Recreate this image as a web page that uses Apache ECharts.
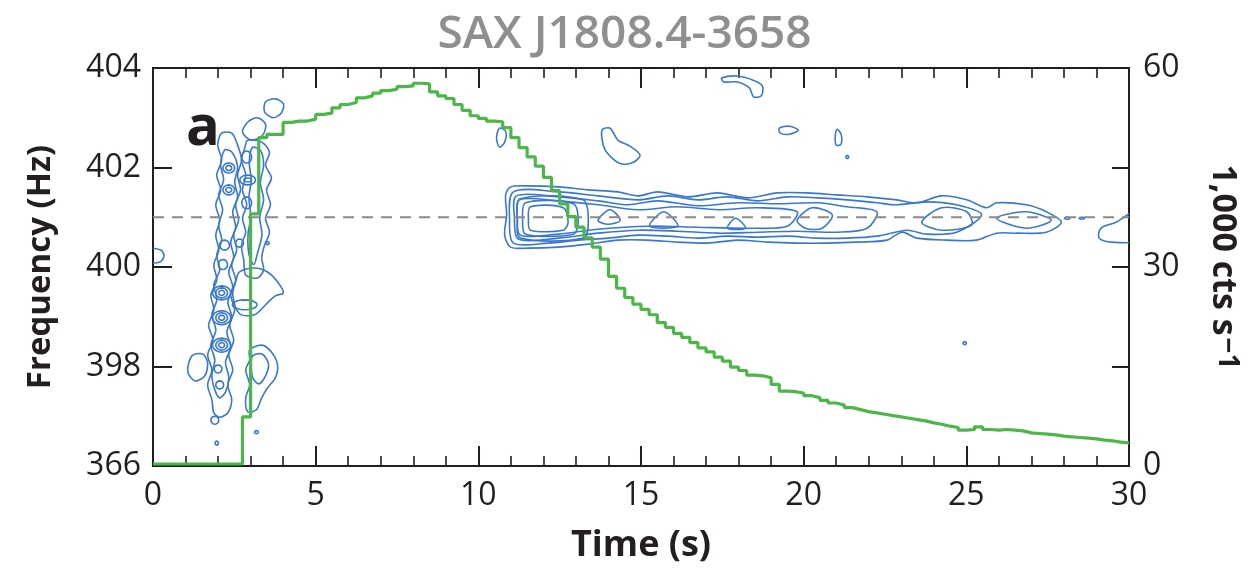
<!DOCTYPE html>
<html>
<head>
<meta charset="utf-8">
<script src="https://cdn.jsdelivr.net/npm/echarts@6/dist/echarts.min.js"></script>
<style>
  html, body { margin: 0; padding: 0; background: #fff; }
  #chart { width: 1249px; height: 574px; }
</style>
</head>
<body>
<div id="chart"></div>
<script>
// frequency axis: the bottom tick is a broken-axis label (366)
var freqTicks = [396, 398, 400, 402, 404];
var freqTickLabels = ['366', '398', '400', '402', '404'];
var refFreq = 401;

// count rate, 1,000 cts/s, in 0.25 s bins starting at t = 0
var binWidth = 0.25;
var rates = [
  0.3, 0.3, 0.3, 0.3, 0.3, 0.3, 0.3, 0.3, 0.3, 0.3, 0.3, 7.4,
  38.0, 49.5, 50.0, 50.0, 51.8, 52.0, 52.0, 52.3, 53.0, 53.2, 54.0, 54.5,
  54.8, 55.5, 55.8, 56.2, 56.6, 56.8, 57.2, 57.3, 57.7, 57.6, 56.4, 55.8,
  55.4, 54.5, 53.6, 52.8, 52.4, 52.0, 51.9, 51.0, 49.5, 48.0, 46.6, 45.2,
  43.5, 41.5, 39.5, 37.6, 36.0, 34.4, 33.0, 31.2, 28.6, 26.8, 25.4, 24.4,
  23.6, 22.8, 21.6, 20.9, 20.0, 19.4, 18.6, 17.8, 17.2, 16.4, 15.8, 14.9,
  14.4, 13.7, 13.6, 13.3, 12.3, 11.3, 11.2, 11.0, 10.6, 10.3, 9.9, 9.5,
  9.2, 8.8, 8.5, 8.2, 8.0, 7.8, 7.6, 7.4, 7.2, 7.0, 6.8, 6.5,
  6.3, 6.0, 5.8, 5.4, 5.5, 5.9, 5.5, 5.4, 5.5, 5.4, 5.3, 5.0,
  4.9, 4.8, 4.7, 4.5, 4.4, 4.3, 4.2, 4.1, 3.9, 3.8, 3.6, 3.5
];

// power contours, [time s, frequency Hz]
var burstContours = [
  // left column, outer
  [[2.11,402.69],[1.99,402.45],[2.11,402.15],[1.96,401.85],[2.08,401.55],[1.93,401.25],[2.05,400.94],[1.93,400.64],
   [2.02,400.34],[1.87,400.04],[1.96,399.74],[1.78,399.44],[1.87,399.14],[1.71,398.83],[1.84,398.53],[1.68,398.23],
   [1.81,397.93],[1.68,397.63],[1.81,397.33],[1.87,397.07],[2.05,396.98],[2.30,397.07],[2.42,397.33],[2.30,397.63],
   [2.45,397.93],[2.33,398.23],[2.48,398.53],[2.36,398.83],[2.51,399.14],[2.39,399.44],[2.54,399.74],[2.42,400.04],
   [2.57,400.34],[2.48,400.64],[2.63,400.94],[2.54,401.25],[2.69,401.55],[2.60,401.85],[2.72,402.15],[2.60,402.45],[2.42,402.69]],
  // left column, inner
  [[2.20,402.35],[2.08,402.05],[2.17,401.75],[2.02,401.45],[2.14,401.15],[2.02,400.84],[2.11,400.54],[1.96,400.24],
   [2.05,399.94],[1.87,399.64],[1.96,399.34],[1.81,399.04],[1.93,398.73],[1.78,398.43],[1.90,398.13],[1.81,397.83],
   [1.90,397.53],[2.05,397.37],[2.23,397.49],[2.33,397.77],[2.23,398.09],[2.39,398.39],[2.27,398.69],[2.42,398.99],
   [2.30,399.30],[2.45,399.60],[2.33,399.90],[2.48,400.20],[2.39,400.50],[2.54,400.80],[2.45,401.11],[2.60,401.41],
   [2.51,401.71],[2.60,402.01],[2.42,402.31]],
  // right column
  [[2.91,402.55],[3.34,402.51],[3.58,402.31],[3.46,402.05],[3.64,401.79],[3.49,401.55],[3.61,401.25],[3.46,400.98],
   [3.58,400.70],[3.43,400.44],[3.34,400.18],[3.40,399.94],[3.21,399.78],[2.85,399.84],[2.79,400.14],[2.72,400.44],
   [2.85,400.70],[2.75,400.98],[2.88,401.25],[2.75,401.55],[2.85,401.85],[2.72,402.15],[2.82,402.39]],
  [[3.05,402.40],[3.30,402.35],[3.40,402.05],[3.30,401.70],[3.40,401.35],[3.28,401.00],[3.35,400.65],[3.22,400.30],
   [3.10,400.05],[2.95,400.25],[2.92,400.65],[3.00,401.00],[2.95,401.40],[3.02,401.75],[2.96,402.10]],
  [[3.46,403.32],[3.76,403.38],[4.01,403.28],[3.95,403.10],[3.70,403.00],[3.43,403.12]],
  [[2.91,402.91],[3.21,403.00],[3.46,402.87],[3.37,402.65],[3.03,402.55],[2.75,402.71]],
  [[2.66,399.90],[3.12,399.98],[3.52,399.90],[3.83,399.70],[4.01,399.48],[3.76,399.42],[3.52,399.28],[3.12,399.04],
   [2.66,399.06],[2.45,399.44],[2.54,399.70]],
  [[2.97,398.33],[3.34,398.43],[3.64,398.29],[3.83,398.03],[3.76,397.77],[3.52,397.57],[3.34,397.37],[3.18,397.13],
   [2.91,397.09],[2.85,397.37],[2.97,397.63],[2.85,397.93],[2.97,398.13]],
  [[3.05,398.20],[3.35,398.25],[3.55,398.05],[3.45,397.80],[3.25,397.65],[3.05,397.80]],
  [[1.19,398.21],[1.53,398.25],[1.68,398.07],[1.59,397.81],[1.29,397.71],[1.07,397.89]],
  [[-0.1,400.36],[0.24,400.34],[0.34,400.22],[0.21,400.10],[-0.1,400.10]],
  // stray contours in the upper half
  [[10.65,402.79],[10.84,402.73],[10.81,402.51],[10.65,402.41],[10.56,402.59]],
  [[13.80,402.75],[14.05,402.79],[14.29,402.55],[14.66,402.43],[14.97,402.25],[14.78,402.11],[14.42,402.07],[14.11,402.19],[13.87,402.39]],
  [[17.48,403.80],[17.97,403.84],[18.43,403.76],[18.73,403.64],[18.70,403.44],[18.46,403.42],[18.33,403.60],[17.97,403.72],[17.54,403.72]],
  [[19.25,402.79],[19.56,402.83],[19.83,402.75],[19.56,402.67],[19.28,402.69]],
  [[21.03,402.77],[21.15,402.67],[21.15,402.47],[21.00,402.45],[20.97,402.63]],
  // 401 Hz band
  [[10.84,401.45],[10.99,401.61],[11.54,401.63],[12.46,401.61],[13.38,401.55],[14.29,401.51],[14.91,401.43],[15.52,401.51],
   [16.44,401.41],[17.36,401.49],[18.27,401.39],[19.19,401.49],[20.11,401.49],[21.03,401.45],[21.95,401.41],[22.86,401.35],
   [23.48,401.29],[24.24,401.43],[25.01,401.35],[25.62,401.19],[25.93,401.29],[26.84,401.25],[27.46,401.11],[27.92,400.90],
   [27.46,400.70],[26.54,400.68],[25.93,400.68],[25.31,400.54],[24.40,400.54],[23.48,400.58],[23.02,400.70],[22.56,400.54],
   [21.64,400.50],[20.72,400.48],[19.80,400.48],[18.89,400.50],[17.97,400.54],[17.05,400.48],[16.13,400.50],[15.21,400.54],
   [14.29,400.54],[13.38,400.46],[12.46,400.40],[11.54,400.38],[10.99,400.40],[10.81,400.64],[10.87,401.05]],
  [[11.08,401.51],[12.46,401.51],[13.68,401.43],[14.91,401.35],[15.82,401.43],[16.74,401.35],[17.66,401.41],[18.58,401.33],
   [19.50,401.41],[20.42,401.39],[21.33,401.35],[22.25,401.29],[22.86,401.25],[23.78,401.31],[24.70,401.25],[25.47,401.05],
   [24.70,400.70],[23.78,400.66],[23.17,400.74],[22.25,400.62],[21.33,400.58],[20.42,400.58],[19.50,400.62],[18.58,400.60],
   [17.66,400.62],[16.74,400.58],[15.82,400.62],[14.91,400.64],[13.99,400.58],[13.07,400.54],[12.15,400.48],[11.08,400.48],[10.96,400.94]],
  [[11.17,401.43],[12.46,401.41],[13.68,401.33],[14.60,401.25],[15.52,401.33],[16.74,401.23],[17.97,401.29],[19.19,401.27],
   [20.42,401.29],[21.33,401.21],[22.25,401.11],[21.95,400.78],[21.03,400.70],[19.80,400.72],[18.58,400.70],[17.36,400.68],
   [16.13,400.72],[14.91,400.74],[13.68,400.68],[12.46,400.58],[11.23,400.56],[11.11,400.98]],
  [[11.26,401.35],[12.46,401.33],[13.68,401.25],[14.91,401.15],[16.13,401.21],[17.36,401.15],[18.58,401.19],[19.80,401.11],
   [19.50,400.82],[18.27,400.78],[16.74,400.80],[15.21,400.82],[13.68,400.76],[12.46,400.66],[11.29,400.64],[11.20,400.98]],
  [[11.29,401.37],[13.22,401.35],[13.38,400.90],[13.22,400.58],[11.29,400.58],[11.20,400.94]],
  [[11.45,401.29],[12.92,401.27],[13.07,400.90],[12.92,400.66],[11.45,400.66],[11.36,400.94]],
  [[11.60,401.21],[12.61,401.19],[12.76,400.90],[12.61,400.74],[11.60,400.74],[11.54,400.94]],
  [[15.27,400.82],[15.70,401.11],[16.13,400.82]],
  [[13.68,400.94],[14.05,401.15],[14.36,400.94],[13.99,400.86]],
  [[17.66,400.78],[17.91,400.98],[18.21,400.78]],
  [[19.80,400.94],[20.26,401.19],[20.88,401.05],[20.57,400.78],[20.05,400.78]],
  [[23.63,400.90],[24.24,401.19],[25.01,401.11],[25.16,400.84],[24.24,400.74]],
  [[25.93,400.98],[26.84,401.11],[27.61,400.94],[26.84,400.78]],
  [[30.2,401.11],[29.60,400.90],[29.14,400.78],[29.08,400.58],[29.45,400.50],[30.2,400.54]]
];

// small closed contours: [time, freq, half-width s, half-height Hz]
var smallLoops = [
  [2.33,401.99,0.18,0.10],[2.33,401.99,0.09,0.05],
  [2.33,401.55,0.18,0.10],[2.33,401.55,0.09,0.05],
  [2.88,402.21,0.15,0.12],
  [2.91,401.75,0.24,0.10],[2.91,401.75,0.12,0.04],
  [2.88,401.29,0.15,0.12],
  [2.20,400.44,0.15,0.10],
  [2.15,400.05,0.14,0.10],
  [2.11,399.48,0.28,0.14],[2.11,399.48,0.18,0.10],[2.11,399.48,0.09,0.05],
  [2.11,398.98,0.28,0.14],[2.11,398.98,0.18,0.10],[2.11,398.98,0.09,0.05],
  [2.11,398.43,0.28,0.14],[2.11,398.43,0.18,0.10],[2.11,398.43,0.09,0.05],
  [2.05,397.63,0.12,0.08],
  [2.00,397.95,0.12,0.08],
  [2.82,399.24,0.38,0.10],
  [2.66,400.48,0.12,0.08],
  [3.52,400.48,0.05,0.03],
  [1.90,396.92,0.12,0.08],
  [1.96,396.46,0.05,0.04],
  [3.18,396.68,0.06,0.03],
  [21.34,402.21,0.04,0.03],
  [24.95,398.47,0.05,0.03],
  [28.10,400.98,0.08,0.02],[28.55,400.98,0.08,0.02]
];

var blue = '#3a78cf';
var green = '#4cb748';
var ink = '#231f20';
var font = 'Open Sans';

var rateData = rates.map(function (v, i) { return [i * binWidth, v]; });
rateData.push([rates.length * binWidth, rates[rates.length - 1]]);

function renderContour(params, api) {
  var pts = burstContours[params.dataIndex].map(function (p) { return api.coord(p); });
  return {
    type: 'polygon',
    shape: { points: pts, smooth: 0.3 },
    style: { fill: 'none', stroke: blue, lineWidth: 1.6 }
  };
}

function renderLoop(params, api) {
  var c = api.coord([api.value(0), api.value(1)]);
  var s = api.size([api.value(2), api.value(3)]);
  var pts = [];
  for (var k = 0; k < 20; k++) {
    var a = k / 20 * Math.PI * 2;
    pts.push([c[0] + s[0] * Math.cos(a), c[1] + s[1] * Math.sin(a)]);
  }
  return {
    type: 'polygon',
    shape: { points: pts },
    style: { fill: 'none', stroke: blue, lineWidth: 1.6 }
  };
}

function timeAxis(extra) {
  return Object.assign({
    type: 'value', min: 0, max: 30, interval: 5, show: true,
    axisLine: { show: true, onZero: false, lineStyle: { color: ink, width: 2 } },
    axisTick: { show: true, inside: true, length: 20, lineStyle: { color: ink, width: 2 } },
    minorTick: { show: true, splitNumber: 5, length: 10, lineStyle: { color: ink, width: 1.6 } },
    splitLine: { show: false }
  }, extra);
}

var myChart = echarts.init(document.getElementById('chart'));
myChart.setOption({
  animation: false,
  title: [
    {
      text: 'SAX J1808.4-3658', left: 'center', top: 7,
      textStyle: { fontFamily: font, fontSize: 46, fontWeight: 600, color: '#8f8f8f' }
    },
    {
      text: 'a', left: 181, top: 96,
      textStyle: { fontFamily: font, fontSize: 56, fontWeight: 'bold', color: ink }
    }
  ],
  grid: { left: 153, right: 116, top: 68, bottom: 108, show: true, borderColor: ink, borderWidth: 2, backgroundColor: 'transparent' },
  xAxis: [
    timeAxis({
      position: 'bottom',
      name: 'Time (s)', nameLocation: 'middle', nameGap: 62,
      nameTextStyle: { fontFamily: font, fontSize: 36, fontWeight: 'bold', color: ink },
      axisLabel: { fontFamily: font, fontSize: 32, color: ink, margin: 14 }
    }),
    timeAxis({
      position: 'top',
      axisLabel: { show: false }
    })
  ],
  yAxis: [
    {
      type: 'value', min: freqTicks[0], max: freqTicks[freqTicks.length - 1], interval: 2,
      position: 'left',
      name: 'Frequency (Hz)', nameLocation: 'middle', nameGap: 96,
      nameTextStyle: { fontFamily: font, fontSize: 33, fontWeight: 'bold', color: ink },
      axisLine: { show: true, onZero: false, lineStyle: { color: ink, width: 2 } },
      axisTick: { show: true, inside: true, length: 19, lineStyle: { color: ink, width: 2 } },
      axisLabel: {
        fontFamily: font, fontSize: 32, color: ink, margin: 12,
        formatter: function (v) {
          var i = freqTicks.indexOf(v);
          return i >= 0 ? freqTickLabels[i] : '';
        }
      },
      splitLine: { show: false }
    },
    {
      type: 'value', min: 0, max: 60, interval: 30,
      position: 'right',
      name: '{m|1,000 cts s}{s|−1}', nameLocation: 'middle', nameGap: 76, nameRotate: -90,
      nameTextStyle: {
        fontFamily: font, fontSize: 34, fontWeight: 'bold', color: ink,
        rich: {
          m: { fontFamily: font, fontSize: 34, fontWeight: 'bold', color: ink },
          s: { fontFamily: font, fontSize: 28, fontWeight: 'bold', color: ink, padding: [0, 0, 8, 2] }
        }
      },
      axisLine: { show: true, onZero: false, lineStyle: { color: ink, width: 2 } },
      axisTick: { show: true, inside: true, length: 17, lineStyle: { color: ink, width: 2 } },
      minorTick: { show: true, splitNumber: 2, length: 17, lineStyle: { color: ink, width: 2 } },
      axisLabel: { fontFamily: font, fontSize: 32, color: ink, margin: 14 },
      splitLine: { show: false }
    }
  ],
  series: [
    {
      name: 'contours', type: 'custom', coordinateSystem: 'cartesian2d',
      xAxisIndex: 0, yAxisIndex: 0, clip: true,
      renderItem: renderContour,
      encode: { x: 0, y: 1 },
      data: burstContours.map(function (c) { return c[0]; }),
      silent: true
    },
    {
      name: 'loops', type: 'custom', coordinateSystem: 'cartesian2d',
      xAxisIndex: 0, yAxisIndex: 0, clip: true,
      renderItem: renderLoop,
      encode: { x: 0, y: 1 },
      data: smallLoops,
      silent: true
    },
    {
      name: 'spin', type: 'line', xAxisIndex: 1, yAxisIndex: 0,
      data: [[0, refFreq], [30, refFreq]],
      showSymbol: false, silent: true,
      lineStyle: { color: '#8a8a8a', width: 2.2, type: [11, 8] }
    },
    {
      name: 'rate', type: 'line', xAxisIndex: 0, yAxisIndex: 1,
      step: 'end', data: rateData,
      showSymbol: false, silent: true,
      lineStyle: { color: green, width: 3.2 }
    }
  ]
});
</script>
</body>
</html>
